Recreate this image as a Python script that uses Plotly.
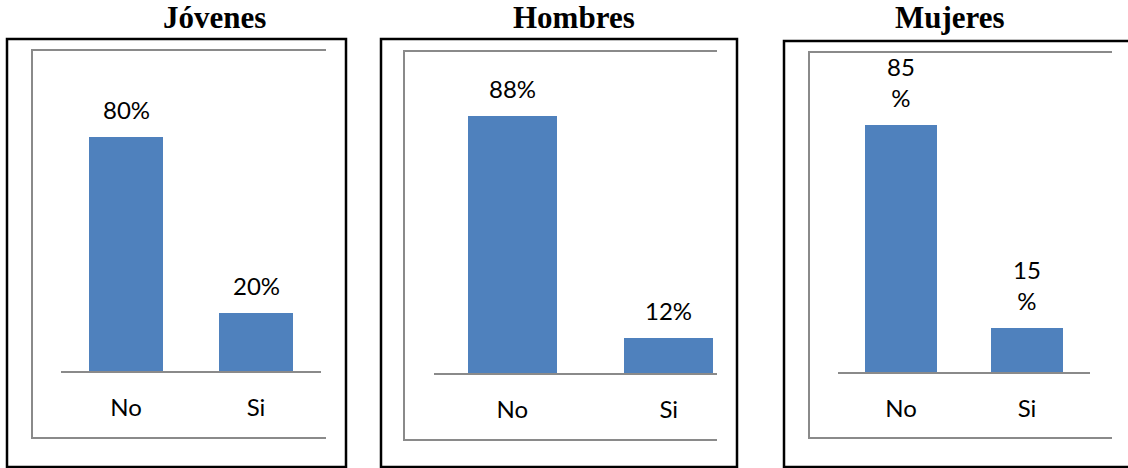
import plotly.graph_objects as go

# Survey answers by group (percent)
categories = ["No", "Si"]
groups = ["Jóvenes", "Hombres", "Mujeres"]
jovenes = [80, 20]
hombres = [88, 12]
mujeres = [85, 15]
label_texts = [
    ["80%", "20%"],
    ["88%", "12%"],
    ["85<br>%", "15<br>%"],
]

W, H = 1128, 468
BAR_COLOR = "#4F81BD"
GRAY = "#8A8A8A"
LABEL_FONT = dict(family="Lato, Liberation Sans, sans-serif", size=24, color="#000000")


def px(x):
    return x / W


def py(y):
    return 1 - y / H


# panel geometry in screen pixels
panels = [
    dict(values=jovenes, left=61, right=321, step=130, base=371, scale=2.925,
         title_x=214, outer=(7, 39, 346, 467), inner=(32, 50, 326, 438)),
    dict(values=hombres, left=434, right=717, step=156.5, base=373, scale=2.92,
         title_x=574, outer=(381, 39, 737, 467), inner=(404, 51, 717, 440)),
    dict(values=mujeres, left=838, right=1090, step=126, base=372, scale=2.905,
         title_x=950, outer=(784, 41, 1135, 467), inner=(809, 52, 1112, 438)),
]

fig = go.Figure()
shapes = []
annotations = []
TOP = 60

for i, p in enumerate(panels):
    n = i + 1
    xa = "x" if n == 1 else f"x{n}"
    ya = "y" if n == 1 else f"y{n}"
    fig.add_trace(go.Bar(
        x=categories, y=p["values"], width=0.57,
        marker=dict(color=BAR_COLOR, line=dict(width=0)),
        xaxis=xa, yaxis=ya, showlegend=False, hoverinfo="skip",
    ))
    xr = [-0.5, -0.5 + (p["right"] - p["left"]) / p["step"]]
    yr = [0, (p["base"] - TOP) / p["scale"]]
    fig.update_layout(**{
        ("xaxis" if n == 1 else f"xaxis{n}"): dict(
            domain=[px(p["left"]), px(p["right"])], range=xr, anchor=ya,
            showline=True, linecolor=GRAY, linewidth=1.5, ticks="",
            showgrid=False, zeroline=False, fixedrange=True,
            tickfont=LABEL_FONT, ticklabelstandoff=14,
        ),
        ("yaxis" if n == 1 else f"yaxis{n}"): dict(
            domain=[py(p["base"]), py(TOP)], range=yr, anchor=xa,
            visible=False, showgrid=False, zeroline=False, fixedrange=True,
        ),
    })
    # value labels above bars
    for c, v, t in zip(categories, p["values"], label_texts[i]):
        annotations.append(dict(
            x=c, y=v, xref=xa, yref=ya, text=t, showarrow=False,
            xanchor="center", yanchor="bottom", yshift=11, font=LABEL_FONT,
        ))
    # group title
    annotations.append(dict(
        x=px(p["title_x"]), y=py(18), xref="paper", yref="paper",
        text=f"<b>{groups[i]}</b>", showarrow=False,
        xanchor="center", yanchor="middle",
        font=dict(family="Liberation Serif, Times New Roman, serif", size=31, color="#000000"),
    ))
    # outer black frame
    x0, y0, x1, y1 = p["outer"]
    shapes.append(dict(type="rect", xref="paper", yref="paper",
                       x0=px(x0), x1=px(x1), y0=py(y1), y1=py(y0),
                       line=dict(color="#000000", width=2.5)))
    # inner gray frame (open on the right)
    x0, y0, x1, y1 = p["inner"]
    shapes.append(dict(type="path", xref="paper", yref="paper",
                       path=f"M {px(x1)} {py(y0)} L {px(x0)} {py(y0)} L {px(x0)} {py(y1)} L {px(x1)} {py(y1)}",
                       line=dict(color=GRAY, width=2)))

fig.update_layout(
    width=W, height=H, margin=dict(l=0, r=0, t=0, b=0),
    paper_bgcolor="#FFFFFF", plot_bgcolor="rgba(0,0,0,0)",
    shapes=shapes, annotations=annotations, bargap=0,
)

fig.write_html("out.html", config={"displayModeBar": False})
